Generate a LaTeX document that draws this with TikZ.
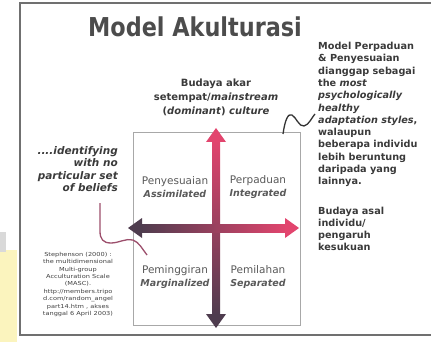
\documentclass[tikz,border=0pt]{standalone}
\usepackage{fontspec}
\setmainfont{DejaVu Sans}
\newfontfamily\titlefont[FakeStretch=0.86]{DejaVu Sans}
\newfontfamily\citefont[FakeStretch=1.2]{DejaVu Sans}
\usetikzlibrary{positioning}

\definecolor{axisred}{HTML}{E2456E}
\definecolor{axisdark}{HTML}{4E3C4E}
\definecolor{framegrey}{HTML}{707070}
\definecolor{boxgrey}{HTML}{A8A8A8}
\definecolor{textgrey}{HTML}{3A3A3A}
\definecolor{curvemauve}{HTML}{9C4F6C}
\definecolor{stripyellow}{HTML}{FBF4BE}

\newcommand\engterm[1]{{\fontsize{9.5}{13}\selectfont\bfseries\itshape #1}}

\tikzset{
  quadlabel/.style={align=center, text=black!65, inner sep=0pt,
    font=\fontsize{10.5}{13}\selectfont},
  sidenote/.style={align=left, anchor=north west, inner sep=0pt, text=textgrey,
    font=\fontsize{9.7}{12.3}\selectfont\bfseries},
}

\begin{document}
\begin{tikzpicture}[x=1pt, y=-1pt]
  \useasboundingbox (0,0) rectangle (431,342);

  \def \shaft {4}    % half width of an axis
  \def \headlen {14} % length of an arrow head
  \def \headw {10}   % half width of an arrow head

  % left strip of the slide
  \fill[stripyellow] (0,250) rectangle (17,342);
  \fill[black!15] (0,232) rectangle (6,252);

  % outer frame, open on the right
  \draw[framegrey, line width=1.8pt] (431,3) -- (20,3) -- (20,335) -- (431,335);

  \node[font=\titlefont\fontsize{26}{26}\selectfont\bfseries, text=black!70, inner sep=0pt]
    (title) at (195,27) {Model Akulturasi};

  % inner box and the two axes
  \draw[boxgrey, line width=0.9pt] (133,132) rectangle (300,325);
  \coordinate (vtop) at (216,128);
  \coordinate (vbot) at (216,328);
  \coordinate (hleft) at (128,228);
  \coordinate (hright) at (299,228);

  \shade[top color=axisred, bottom color=axisdark]
    ([shift={(-\shaft,12)}]vtop) rectangle ([shift={(\shaft,-12)}]vbot);
  \fill[axisred] (vtop) -- ++(\headw,\headlen) -- ++(-2*\headw,0) -- cycle;
  \fill[axisdark] (vbot) -- ++(\headw,-\headlen) -- ++(-2*\headw,0) -- cycle;

  \shade[left color=axisdark, right color=axisred]
    ([shift={(12,-\shaft)}]hleft) rectangle ([shift={(-12,\shaft)}]hright);
  \fill[axisdark] (hleft) -- ++(\headlen,-\headw) -- ++(0,2*\headw) -- cycle;
  \fill[axisred] (hright) -- ++(-\headlen,-\headw) -- ++(0,2*\headw) -- cycle;

  % the four strategies
  \node[quadlabel] (assim) at (175,187) {Penyesuaian\\\engterm{Assimilated}};
  \node[quadlabel] (integ) at (258,187) {Perpaduan\\\engterm{Integrated}};
  \node[quadlabel] (marg) at (175,277) {Peminggiran\\\engterm{Marginalized}};
  \node[quadlabel] (separ) at (258,277) {Pemilahan\\\engterm{Separated}};

  % texts round the box
  \node[align=center, anchor=north, inner sep=0pt, text=textgrey,
    font=\fontsize{10}{14}\selectfont\bfseries] (dominant) at (216,79)
    {Budaya akar\\setempat/\textit{mainstream}\\(\textit{dominant}) \textit{culture}};

  \node[sidenote] (integnote) at (318,42)
    {Model Perpaduan\\\& Penyesuaian\\dianggap sebagai\\the \textit{most}\\\textit{psychologically}\\%
     \textit{healthy}\\\textit{adaptation styles},\\walaupun\\beberapa individu\\lebih beruntung\\%
     daripada yang\\lainnya.};

  \node[sidenote, font=\fontsize{9.7}{12}\selectfont\bfseries] (ethnic) at (318,207)
    {Budaya asal\\individu/\\pengaruh\\kesukuan};

  \node[align=right, anchor=north east, inner sep=0pt, text=textgrey,
    font=\fontsize{10.5}{12.5}\selectfont\bfseries\itshape] (nobelief) at (118,146)
    {....identifying\\with no\\particular set\\of beliefs};

  \node[align=center, anchor=north, inner sep=0pt, text=black!75,
    font=\citefont\fontsize{5.5}{7.4}\selectfont] (cite) at (78,252)
    {Stephenson (2000) :\\the multidimensional\\Multi-group\\Acculturation Scale\\(MASC).\\%
     http://members.tripo\\d.com/random\_angel\\part14.htm , akses\\tanggal 6 April 2003)};

  % pointers
  \coordinate (wavestart) at (283,134);
  \coordinate (waveend) at (315,114);
  \draw[black!80, line width=1.3pt] (wavestart) .. controls (285,120) and (288,113) .. (292,115)
    .. controls (296,117) and (299,127) .. (304,126) .. controls (309,125) and (312,117) .. (waveend);

  \coordinate (curvestart) at (100,203);
  \coordinate (curveend) at (147,255);
  \draw[curvemauve, line width=1.3pt] (curvestart) -- (100,231)
    .. controls (100,239) and (103,243) .. (111,243)
    .. controls (119,243) and (126,238) .. (133,240)
    .. controls (139,242) and (143,250) .. (curveend);
\end{tikzpicture}
\end{document}
